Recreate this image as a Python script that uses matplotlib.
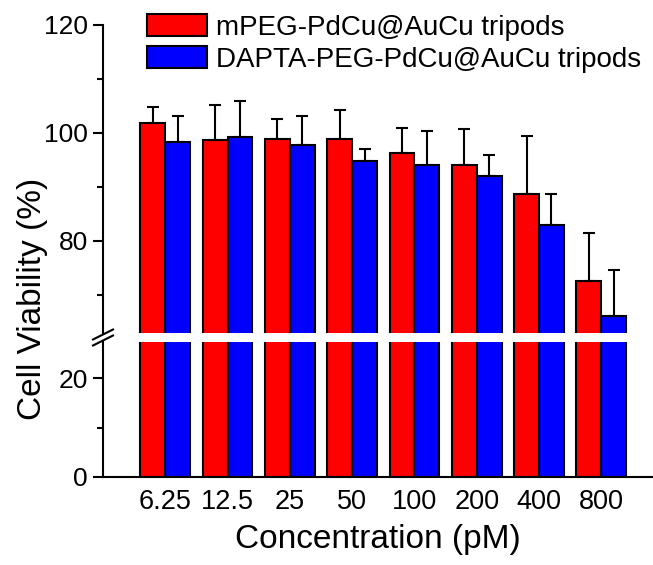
import matplotlib
matplotlib.use('Agg')
import matplotlib.pyplot as plt
from matplotlib.lines import Line2D
import numpy as np

plt.rcParams['font.family'] = ['Liberation Sans', 'DejaVu Sans']

# data
concentrations = ['6.25', '12.5', '25', '50', '100', '200', '400', '800']
mpeg_viability = [101.9, 98.6, 98.8, 98.8, 96.2, 94.1, 88.6, 72.5]
mpeg_err = [2.9, 6.6, 3.8, 5.5, 4.7, 6.6, 10.8, 8.9]
dapta_viability = [98.4, 99.2, 97.8, 94.7, 94.0, 92.0, 83.0, 66.0]
dapta_err = [4.7, 6.7, 5.3, 2.3, 6.4, 3.9, 5.6, 8.5]
series_labels = ['mPEG-PdCu@AuCu tripods', 'DAPTA-PEG-PdCu@AuCu tripods']

W, H = 653, 565
fig = plt.figure(figsize=(W / 100, H / 100), dpi=100)

left = 103 / W
width = 1 - left
ax_top = fig.add_axes([left, 1 - 332.5 / H, width, (332.5 - 25) / H])
ax_bot = fig.add_axes([left, 1 - 476.7 / H, width, (476.7 - 341.5) / H])

x = np.arange(len(concentrations))
bw = 0.4
lw = 1.5
zeros = np.zeros(len(x))

for ax in (ax_top, ax_bot):
    b1 = ax.bar(x - bw / 2, mpeg_viability, bw, color='#ff0000',
                edgecolor='black', linewidth=lw, label=series_labels[0])
    b2 = ax.bar(x + bw / 2, dapta_viability, bw, color='#0000ff',
                edgecolor='black', linewidth=lw, label=series_labels[1])
    ax.set_xlim(-1.0, 7.83)
    ax.spines['top'].set_visible(False)
    ax.spines['right'].set_visible(False)
    for sp in ax.spines.values():
        sp.set_linewidth(lw)
    ax.tick_params(axis='y', which='major', length=7, width=lw,
                   labelsize=19, pad=4)
    ax.tick_params(axis='y', which='minor', length=4, width=lw)
    if ax is ax_top:
        handles = [b1, b2]

ax_top.errorbar(x - bw / 2, mpeg_viability, yerr=[zeros, mpeg_err],
                fmt='none', ecolor='black', elinewidth=lw, capsize=4,
                capthick=lw)
ax_top.errorbar(x + bw / 2, dapta_viability, yerr=[zeros, dapta_err],
                fmt='none', ecolor='black', elinewidth=lw, capsize=4,
                capthick=lw)

ax_top.set_ylim(63.0, 120)
ax_top.set_yticks([80, 100, 120])
ax_top.set_yticks([70, 90, 110], minor=True)
ax_top.spines['bottom'].set_visible(False)
ax_top.set_xticks([])

ax_bot.set_ylim(0, 27.5)
ax_bot.set_yticks([0, 20])
ax_bot.set_yticks([10], minor=True)
ax_bot.set_xticks(x)
ax_bot.set_xticklabels(concentrations)
ax_bot.tick_params(axis='x', length=0, labelsize=19.5, pad=9)
ax_bot.set_xlabel('Concentration (pM)', fontsize=24, labelpad=6)

fig.text(33 / W, 1 - 299 / H, 'Cell Viability (%)', rotation=90,
         ha='center', va='center', fontsize=24)

# break marks on the y axis
for y0 in (339.5, 345.5):
    fig.add_artist(Line2D([93 / W, 113 / W],
                          [1 - y0 / H, 1 - (y0 - 10) / H],
                          color='black', linewidth=lw))

fig.legend(handles, series_labels, loc='upper left',
           bbox_to_anchor=(147 / W, 1 - 14 / H), frameon=False,
           fontsize=20, handlelength=2.15, handleheight=0.85,
           handletextpad=0.35, labelspacing=0.2, borderpad=0,
           borderaxespad=0)

fig.savefig('out.png', dpi=100)
